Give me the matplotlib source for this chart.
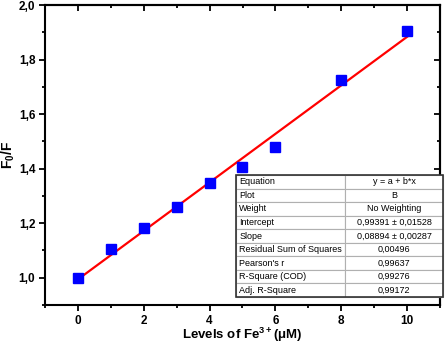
import matplotlib.pyplot as plt
from matplotlib.ticker import MultipleLocator, FuncFormatter
from matplotlib.patches import Rectangle

plt.rcParams["font.family"] = ["Liberation Sans", "DejaVu Sans"]
plt.rcParams["mathtext.fontset"] = "custom"
plt.rcParams["mathtext.rm"] = "Liberation Sans"
plt.rcParams["mathtext.bf"] = "Liberation Sans:bold"

# данные
conc = [0, 1, 2, 3, 4, 5, 6, 8, 10]
ratio = [1.00, 1.106, 1.182, 1.259, 1.348, 1.407, 1.480, 1.725, 1.906]
intercept = 0.99391
slope = 0.08894

table_keys = ["Equation", "Plot", "Weight", "Intercept", "Slope",
              "Residual Sum of Squares", "Pearson's r", "R-Square (COD)",
              "Adj. R-Square"]
table_vals = ["y = a + b*x", "B", "No Weighting", "0,99391 ± 0,01528",
              "0,08894 ± 0,00287", "0,00496", "0,99637", "0,99276", "0,99172"]

fig = plt.figure(figsize=(4.45, 3.45), dpi=100)
ax = fig.add_axes([45 / 445, 40 / 345, 395 / 445, 300 / 345])

fit_x = [conc[0], conc[-1]]
fit_y = [intercept + slope * x for x in fit_x]
ax.plot(conc, ratio, "s", color="#0000ff", markersize=7, zorder=3)
ax.plot(fit_x, fit_y, color="#ff0000", linewidth=1.6, zorder=2)

ax.set_xlim(-1, 11)
ax.set_ylim(0.9, 2.0)
ax.xaxis.set_major_locator(MultipleLocator(2))
ax.xaxis.set_minor_locator(MultipleLocator(1))
ax.yaxis.set_major_locator(MultipleLocator(0.2))
ax.yaxis.set_minor_locator(MultipleLocator(0.1))
ax.xaxis.set_major_formatter(FuncFormatter(lambda v, p: f"{v:.0f}"))
ax.yaxis.set_major_formatter(FuncFormatter(lambda v, p: f"{v:.1f}".replace(".", ",")))

ax.tick_params(which="both", direction="out", width=1.3, labelsize=8.5, pad=3)
ax.tick_params(which="major", length=4)
ax.tick_params(which="minor", length=2.5)
for lbl in ax.get_xticklabels() + ax.get_yticklabels():
    lbl.set_fontweight("bold")

# верх и право - тики внутрь
ax2 = ax.secondary_xaxis("top")
ax2.xaxis.set_major_locator(MultipleLocator(2))
ax2.xaxis.set_minor_locator(MultipleLocator(1))
ax2.tick_params(which="both", direction="in", labeltop=False, width=1.3)
ax2.tick_params(which="major", length=4)
ax2.tick_params(which="minor", length=2.5)
ax3 = ax.secondary_yaxis("right")
ax3.yaxis.set_major_locator(MultipleLocator(0.2))
ax3.yaxis.set_minor_locator(MultipleLocator(0.1))
ax3.tick_params(which="both", direction="in", labelright=False, width=1.3)
ax3.tick_params(which="major", length=4)
ax3.tick_params(which="minor", length=2.5)

for sp in ax.spines.values():
    sp.set_linewidth(1.5)
ax2.spines["top"].set_linewidth(1.5)
ax3.spines["right"].set_linewidth(1.5)

ax.set_xlabel("Levels of Fe$^{\\mathbf{3+}}$(μM)", fontsize=9.5, fontweight="bold",
              va="top")
ax.xaxis.set_label_coords(0.5, -0.07)
ax.set_ylabel("F$_\\mathbf{0}$/F", fontsize=10, fontweight="bold")
ax.yaxis.set_label_coords(-0.072, 0.5)

# таблица с параметрами
tx0 = (236 - 45) / 395
tw = (443 - 236) / 395
ty0 = (305 - 297) / 300
th = (297 - 175) / 300
rows = [[k, v] for k, v in zip(table_keys, table_vals)]
tbl = ax.table(cellText=rows, bbox=[tx0, ty0, tw, th], colWidths=[0.527, 0.473],
               cellLoc="left", zorder=5)
tbl.auto_set_font_size(False)
for (r, c), cell in tbl.get_celld().items():
    cell.set_edgecolor("#b0b0b0")
    cell.set_linewidth(0.8)
    cell.set_facecolor("white")
    cell.get_text().set_fontsize(6.5)
    cell.PAD = 0.03
    if c == 1:
        cell.get_text().set_horizontalalignment("center")
        cell._loc = "center"
ax.add_patch(Rectangle((tx0, ty0), tw, th, transform=ax.transAxes, fill=False,
                       edgecolor="#333333", linewidth=1.2, zorder=6, clip_on=False))

plt.savefig("out.png", dpi=100)
